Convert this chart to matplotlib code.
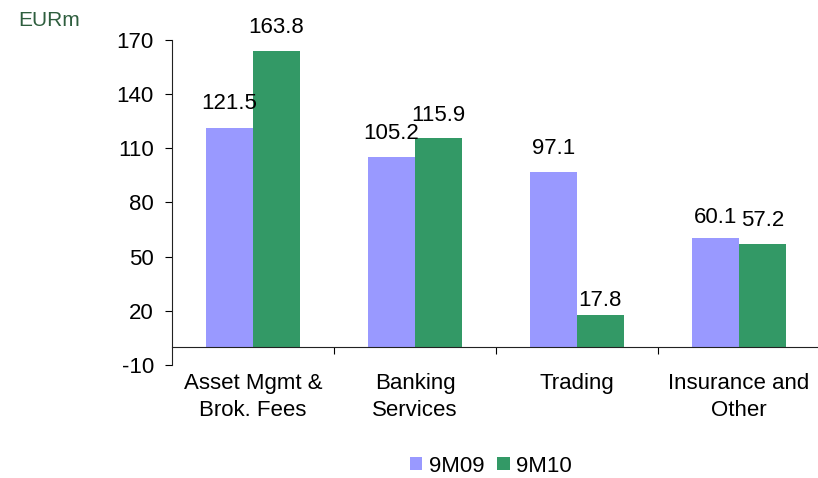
import matplotlib
matplotlib.use("Agg")
import matplotlib.pyplot as plt
import numpy as np

# data
categories = ["Asset Mgmt &\nBrok. Fees", "Banking\nServices", "Trading", "Insurance and\nOther"]
v_9m09 = [121.5, 105.2, 97.1, 60.1]
v_9m10 = [163.8, 115.9, 17.8, 57.2]
series_names = ["9M09", "9M10"]
yticks = [-10, 20, 50, 80, 110, 140, 170]

plt.rcParams["font.family"] = ["Liberation Sans", "DejaVu Sans"]
plt.rcParams["axes.unicode_minus"] = False

fs = 16

fig = plt.figure(figsize=(8.18, 4.78), dpi=100)
ax = fig.add_axes([0.2103, 0.2364, 0.792, 0.68])

x = np.arange(len(categories))
w = 0.29
c1, c2 = "#9999FF", "#339966"
b1 = ax.bar(x - w / 2, v_9m09, w, color=c1, label=series_names[0])
b2 = ax.bar(x + w / 2, v_9m10, w, color=c2, label=series_names[1])

# value labels (offset above bar top, points)
off1 = [13, 13, 13, 11]
off2 = [13, 12, 6, 13]
for bars, vals, offs in ((b1, v_9m09, off1), (b2, v_9m10, off2)):
    for b, v, o in zip(bars, vals, offs):
        ax.annotate(f"{v:.1f}", (b.get_x() + b.get_width() / 2, v),
                    xytext=(0, o), textcoords="offset points",
                    ha="center", va="baseline", fontsize=fs)

ax.set_xlim(-0.5, 3.5)
ax.set_ylim(-10, 170)
ax.set_yticks(yticks)
ax.tick_params(axis="y", labelsize=fs, length=5, direction="out", pad=8)

for s in ("top", "right"):
    ax.spines[s].set_visible(False)
ax.spines["bottom"].set_position(("data", 0))
ax.spines["left"].set_color("#222222")
ax.spines["bottom"].set_color("#222222")

# boundaries as major ticks, names as minor
ax.set_xticks([0.5, 1.5, 2.5])
ax.set_xticklabels([])
ax.tick_params(axis="x", which="major", length=5, direction="out")
ax.set_xticks(x, minor=True)
ax.set_xticklabels(categories, minor=True, fontsize=fs, linespacing=1.35)
ax.tick_params(axis="x", which="minor", length=0, pad=19)

fig.text(0.022, 0.957, "EURm", color="#2E5E3E", fontsize=15, va="center")

fig.legend(loc="center", bbox_to_anchor=(0.6, 0.025), ncol=2, frameon=False,
           fontsize=fs, handlelength=0.55, handleheight=0.55, handletextpad=0.3,
           columnspacing=0.6)

fig.savefig("out.png", dpi=100)
